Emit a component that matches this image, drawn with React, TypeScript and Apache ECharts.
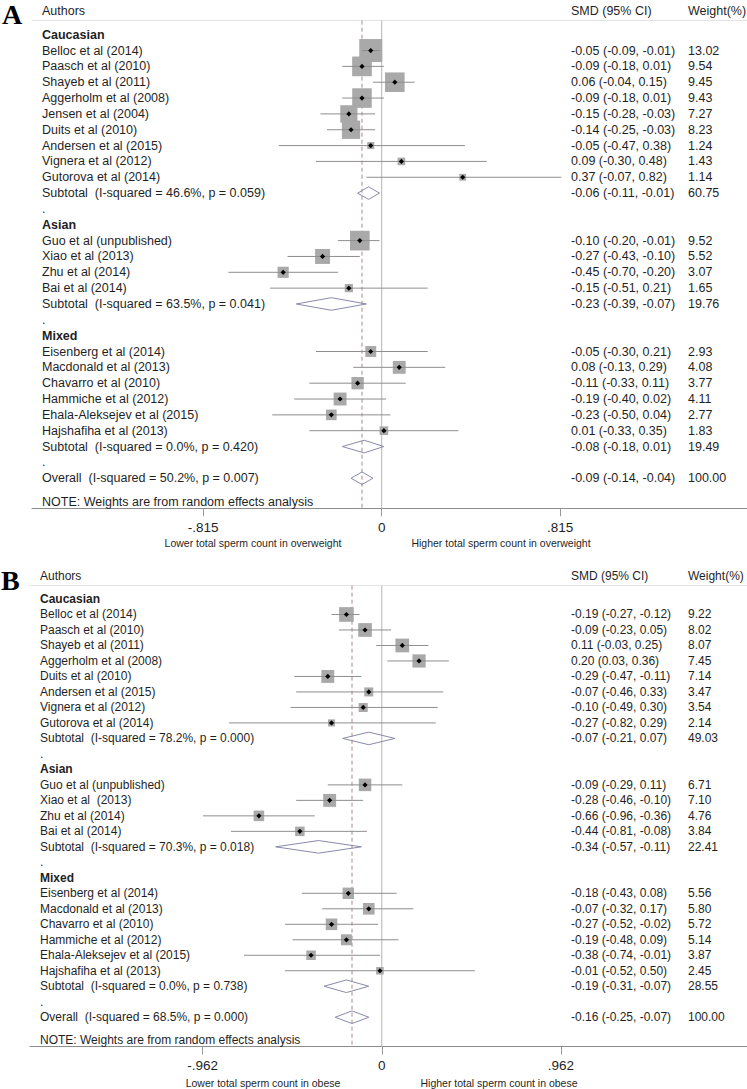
import React, { useEffect, useRef } from "react";
import * as echarts from "echarts";

const FONT = "'Liberation Sans', Arial, sans-serif";
const TEXT = "#1f1f1f";

const groupNames = ["Caucasian", "Asian", "Mixed"];

// ---------- Panel A (overweight) ----------
const studiesA = [
  "Belloc et al (2014)", "Paasch et al (2010)", "Shayeb et al (2011)", "Aggerholm et al (2008)",
  "Jensen et al (2004)", "Duits et al (2010)", "Andersen et al (2015)", "Vignera et al (2012)",
  "Gutorova et al (2014)",
  "Guo et al (unpublished)", "Xiao et al (2013)", "Zhu et al (2014)", "Bai et al (2014)",
  "Eisenberg et al (2014)", "Macdonald et al (2013)", "Chavarro et al (2010)", "Hammiche et al (2012)",
  "Ehala-Aleksejev et al (2015)", "Hajshafiha et al (2013)",
];
const groupOfA = [0, 0, 0, 0, 0, 0, 0, 0, 0, 1, 1, 1, 1, 2, 2, 2, 2, 2, 2];
const smdA = [-0.05, -0.09, 0.06, -0.09, -0.15, -0.14, -0.05, 0.09, 0.37, -0.10, -0.27, -0.45, -0.15, -0.05, 0.08, -0.11, -0.19, -0.23, 0.01];
const loA = [-0.09, -0.18, -0.04, -0.18, -0.28, -0.25, -0.47, -0.30, -0.07, -0.20, -0.43, -0.70, -0.51, -0.30, -0.13, -0.33, -0.40, -0.50, -0.33];
const hiA = [-0.01, 0.01, 0.15, 0.01, -0.03, -0.03, 0.38, 0.48, 0.82, -0.01, -0.10, -0.20, 0.21, 0.21, 0.29, 0.11, 0.02, 0.04, 0.35];
const weightA = [13.02, 9.54, 9.45, 9.43, 7.27, 8.23, 1.24, 1.43, 1.14, 9.52, 5.52, 3.07, 1.65, 2.93, 4.08, 3.77, 4.11, 2.77, 1.83];
const subLabelsA = [
  "Subtotal  (I-squared = 46.6%, p = 0.059)",
  "Subtotal  (I-squared = 63.5%, p = 0.041)",
  "Subtotal  (I-squared = 0.0%, p = 0.420)",
];
const subSmdA = [-0.06, -0.23, -0.08];
const subLoA = [-0.11, -0.39, -0.18];
const subHiA = [-0.01, -0.07, 0.01];
const subWeightA = [60.75, 19.76, 19.49];
const overallLabelA = "Overall  (I-squared = 50.2%, p = 0.007)";
const overallA = [-0.09, -0.14, -0.04, 100.0];
const ticksA = [-0.815, 0, 0.815];
const tickLabelsA = ["-.815", "0", ".815"];
const favoursA = ["Lower total sperm count in overweight", "Higher total sperm count in overweight"];

// ---------- Panel B (obese) ----------
const studiesB = [
  "Belloc et al (2014)", "Paasch et al (2010)", "Shayeb et al (2011)", "Aggerholm et al (2008)",
  "Duits et al (2010)", "Andersen et al (2015)", "Vignera et al (2012)", "Gutorova et al (2014)",
  "Guo et al (unpublished)", "Xiao et al  (2013)", "Zhu et al (2014)", "Bai et al (2014)",
  "Eisenberg et al (2014)", "Macdonald et al (2013)", "Chavarro et al (2010)", "Hammiche et al (2012)",
  "Ehala-Aleksejev et al (2015)", "Hajshafiha et al (2013)",
];
const groupOfB = [0, 0, 0, 0, 0, 0, 0, 0, 1, 1, 1, 1, 2, 2, 2, 2, 2, 2];
const smdB = [-0.19, -0.09, 0.11, 0.20, -0.29, -0.07, -0.10, -0.27, -0.09, -0.28, -0.66, -0.44, -0.18, -0.07, -0.27, -0.19, -0.38, -0.01];
const loB = [-0.27, -0.23, -0.03, 0.03, -0.47, -0.46, -0.49, -0.82, -0.29, -0.46, -0.96, -0.81, -0.43, -0.32, -0.52, -0.48, -0.74, -0.52];
const hiB = [-0.12, 0.05, 0.25, 0.36, -0.11, 0.33, 0.30, 0.29, 0.11, -0.10, -0.36, -0.08, 0.08, 0.17, -0.02, 0.09, -0.01, 0.50];
const weightB = [9.22, 8.02, 8.07, 7.45, 7.14, 3.47, 3.54, 2.14, 6.71, 7.10, 4.76, 3.84, 5.56, 5.80, 5.72, 5.14, 3.87, 2.45];
const subLabelsB = [
  "Subtotal  (I-squared = 78.2%, p = 0.000)",
  "Subtotal  (I-squared = 70.3%, p = 0.018)",
  "Subtotal  (I-squared = 0.0%, p = 0.738)",
];
const subSmdB = [-0.07, -0.34, -0.19];
const subLoB = [-0.21, -0.57, -0.31];
const subHiB = [0.07, -0.11, -0.07];
const subWeightB = [49.03, 22.41, 28.55];
const overallLabelB = "Overall  (I-squared = 68.5%, p = 0.000)";
const overallB = [-0.16, -0.25, -0.07, 100.0];
const ticksB = [-0.962, 0, 0.962];
const tickLabelsB = ["-.962", "0", ".962"];
const favoursB = ["Lower total sperm count in obese", "Higher total sperm count in obese"];

const headerLabels = ["Authors", "SMD (95% CI)", "Weight(%)"];
const noteLabel = "NOTE: Weights are from random effects analysis";

type Row = {
  row: number;
  kind: "group" | "study" | "sub" | "blank" | "note" | "header" | "ref";
  label?: string;
  smd?: number;
  lo?: number;
  hi?: number;
  w?: number;
  dashed?: boolean;
};

function buildRows(
  studies: string[], groupOf: number[], smd: number[], lo: number[], hi: number[], w: number[],
  subLabels: string[], subSmd: number[], subLo: number[], subHi: number[], subW: number[],
  overallLabel: string, overall: number[]
): Row[] {
  const rows: Row[] = [];
  rows.push({ row: 0, kind: "ref", smd: 0 });
  rows.push({ row: 0, kind: "ref", smd: overall[0], dashed: true });
  rows.push({ row: -1.5, kind: "header" });
  let r = 0;
  groupNames.forEach((g, gi) => {
    rows.push({ row: r++, kind: "group", label: g });
    studies.forEach((s, i) => {
      if (groupOf[i] === gi)
        rows.push({ row: r++, kind: "study", label: s, smd: smd[i], lo: lo[i], hi: hi[i], w: w[i] });
    });
    rows.push({ row: r++, kind: "sub", label: subLabels[gi], smd: subSmd[gi], lo: subLo[gi], hi: subHi[gi], w: subW[gi] });
    rows.push({ row: r++, kind: "blank", label: "." });
  });
  rows.push({ row: r, kind: "sub", label: overallLabel, smd: overall[0], lo: overall[1], hi: overall[2], w: overall[3] });
  rows.push({ row: r + 1.5, kind: "note", label: noteLabel });
  return rows;
}

const f2 = (v: number) => v.toFixed(2);

function makeRender(rows: Row[], k: number, textX: number, fontSize: number, yMin: number, yMax: number) {
  return (params: any, api: any) => {
    const r = rows[params.dataIndex];
    const children: any[] = [];
    const y = api.coord([0, r.row])[1];
    const txt = (text: string, x: number, bold = false) => ({
      type: "text",
      style: {
        text, x, y, align: "left", verticalAlign: "middle",
        fontFamily: FONT, fontSize, fontWeight: bold ? "bold" : "normal", fill: TEXT,
      },
    });
    if (r.kind === "ref") {
      const x = api.coord([r.smd, 0])[0];
      const y0 = api.coord([r.smd, yMin])[1];
      const y1 = api.coord([r.smd, yMax])[1];
      children.push({
        type: "line",
        shape: { x1: x, y1: y0, x2: x, y2: y1 },
        style: r.dashed
          ? { stroke: "#a88a8a", lineWidth: 1, lineDash: [4, 3] }
          : { stroke: "#b4b4b4", lineWidth: 1 },
      });
    } else if (r.kind === "header") {
      children.push(txt(headerLabels[0], textX));
      children.push(txt(headerLabels[1], 571));
      children.push(txt(headerLabels[2], 688));
    } else if (r.kind === "group") {
      children.push(txt(r.label as string, textX, true));
    } else if (r.kind === "blank" || r.kind === "note") {
      children.push(txt(r.label as string, textX));
    } else if (r.kind === "study") {
      const c = api.coord([r.smd, r.row]);
      const xl = api.coord([r.lo, r.row])[0];
      const xh = api.coord([r.hi, r.row])[0];
      const side = k * Math.sqrt(r.w as number);
      children.push({
        type: "rect",
        shape: { x: c[0] - side / 2, y: c[1] - side / 2, width: side, height: side },
        style: { fill: "#a9a9a9" },
      });
      children.push({
        type: "line",
        shape: { x1: xl, y1: c[1], x2: xh, y2: c[1] },
        style: { stroke: "#8e8e8e", lineWidth: 1 },
      });
      children.push({
        type: "polygon",
        shape: { points: [[c[0] - 2.6, c[1]], [c[0], c[1] - 2.6], [c[0] + 2.6, c[1]], [c[0], c[1] + 2.6]] },
        style: { fill: "#000" },
      });
      children.push(txt(r.label as string, textX));
      children.push(txt(`${f2(r.smd as number)} (${f2(r.lo as number)}, ${f2(r.hi as number)})`, 571));
      children.push(txt(f2(r.w as number), 688));
    } else if (r.kind === "sub") {
      const c = api.coord([r.smd, r.row]);
      const xl = api.coord([r.lo, r.row])[0];
      const xh = api.coord([r.hi, r.row])[0];
      const h = 6.3;
      children.push({
        type: "polygon",
        shape: { points: [[xl, c[1]], [c[0], c[1] - h], [xh, c[1]], [c[0], c[1] + h]] },
        style: { fill: "none", stroke: "#8a8aaa", lineWidth: 1 },
      });
      children.push(txt(r.label as string, textX));
      children.push(txt(`${f2(r.smd as number)} (${f2(r.lo as number)}, ${f2(r.hi as number)})`, 571));
      children.push(txt(f2(r.w as number), 688));
    }
    return { type: "group", children };
  };
}

function tickFormatter(ticks: number[], labels: string[]) {
  return (v: number) => {
    let best = 0;
    ticks.forEach((t, i) => {
      if (Math.abs(t - v) < Math.abs(ticks[best] - v)) best = i;
    });
    return labels[best];
  };
}

function xAxes(grid: number, min: number, max: number, ticks: number[], labels: string[]) {
  return [
    {
      gridIndex: grid, type: "value", min, max, position: "bottom",
      axisLine: { show: true, onZero: false, lineStyle: { color: "#8c8c8c", width: 1 } },
      axisTick: { show: true, customValues: ticks, length: 8, lineStyle: { color: "#9a9a9a" } },
      axisLabel: {
        show: true, customValues: ticks, formatter: tickFormatter(ticks, labels),
        margin: 12, fontSize: 13.5, color: TEXT, fontFamily: FONT,
      },
      splitLine: { show: false },
    },
    {
      gridIndex: grid, type: "value", min, max, position: "top",
      axisLine: { show: true, onZero: false, lineStyle: { color: "#e3e3e3", width: 1 } },
      axisTick: { show: false }, axisLabel: { show: false }, splitLine: { show: false },
    },
  ];
}

export default function App() {
  const ref = useRef<HTMLDivElement>(null);
  useEffect(() => {
    if (!ref.current) return;
    const chart = echarts.init(ref.current, undefined, { renderer: "svg" });

    const rowsA = buildRows(studiesA, groupOfA, smdA, loA, hiA, weightA, subLabelsA, subSmdA, subLoA, subHiA, subWeightA, overallLabelA, overallA);
    const rowsB = buildRows(studiesB, groupOfB, smdB, loB, hiB, weightB, subLabelsB, subSmdB, subLoB, subHiB, subWeightB, overallLabelB, overallB);

    // Panel geometry
    const aTop = 20.7, aBottom = 508.3, aRow0 = 34.7, aStep = 15.84;
    const bTop = 585.7, bBottom = 1046.7, bRow0 = 599, bStep = 15.49;
    const aYMin = (aTop - aRow0) / aStep, aYMax = (aBottom - aRow0) / aStep;
    const bYMin = (bTop - bRow0) / bStep, bYMax = (bBottom - bRow0) / bStep;
    const aZero = 381.7, aPx = 219, aLeft = 32;
    const bZero = 381.8, bPx = 186.2, bLeft = 30;
    const aXMin = (aLeft - aZero) / aPx, aXMax = (747 - aZero) / aPx;
    const bXMin = (bLeft - bZero) / bPx, bXMax = (747 - bZero) / bPx;

    const option: any = {
      animation: false,
      backgroundColor: "#ffffff",
      grid: [
        { left: aLeft, width: 747 - aLeft, top: aTop, height: aBottom - aTop },
        { left: bLeft, width: 747 - bLeft, top: bTop, height: bBottom - bTop },
      ],
      xAxis: [
        ...xAxes(0, aXMin, aXMax, ticksA, tickLabelsA),
        ...xAxes(1, bXMin, bXMax, ticksB, tickLabelsB),
      ],
      yAxis: [
        { gridIndex: 0, type: "value", inverse: true, min: aYMin, max: aYMax, show: false, splitLine: { show: false } },
        { gridIndex: 1, type: "value", inverse: true, min: bYMin, max: bYMax, show: false, splitLine: { show: false } },
      ],
      series: [
        {
          type: "custom", xAxisIndex: 0, yAxisIndex: 0, clip: false, silent: true,
          renderItem: makeRender(rowsA, 6.37, 42, 12.5, aYMin, aYMax),
          data: rowsA.map((r) => [r.smd ?? 0, r.row]),
        },
        {
          type: "custom", xAxisIndex: 2, yAxisIndex: 1, clip: false, silent: true,
          renderItem: makeRender(rowsB, 4.84, 40, 12, bYMin, bYMax),
          data: rowsB.map((r) => [r.smd ?? 0, r.row]),
        },
      ],
      graphic: [
        { type: "text", left: 2, top: 0, style: { text: "A", fontFamily: "'Liberation Serif', 'Times New Roman', serif", fontWeight: "bold", fontSize: 28, fill: "#000" } },
        { type: "text", left: 1, top: 566, style: { text: "B", fontFamily: "'Liberation Serif', 'Times New Roman', serif", fontWeight: "bold", fontSize: 28, fill: "#000" } },
        { type: "text", x: 253, y: 543, style: { text: favoursA[0], align: "center", verticalAlign: "middle", fontFamily: FONT, fontSize: 10.5, fill: TEXT } },
        { type: "text", x: 501, y: 543, style: { text: favoursA[1], align: "center", verticalAlign: "middle", fontFamily: FONT, fontSize: 10.5, fill: TEXT } },
        { type: "text", x: 263, y: 1083, style: { text: favoursB[0], align: "center", verticalAlign: "middle", fontFamily: FONT, fontSize: 10.5, fill: TEXT } },
        { type: "text", x: 499, y: 1083, style: { text: favoursB[1], align: "center", verticalAlign: "middle", fontFamily: FONT, fontSize: 10.5, fill: TEXT } },
      ],
    };
    chart.setOption(option);
    return () => chart.dispose();
  }, []);
  return (
    <div
      ref={ref}
      style={{ position: "absolute", left: 0, top: 0, width: 747, height: 1089, background: "#fff" }}
    />
  );
}
